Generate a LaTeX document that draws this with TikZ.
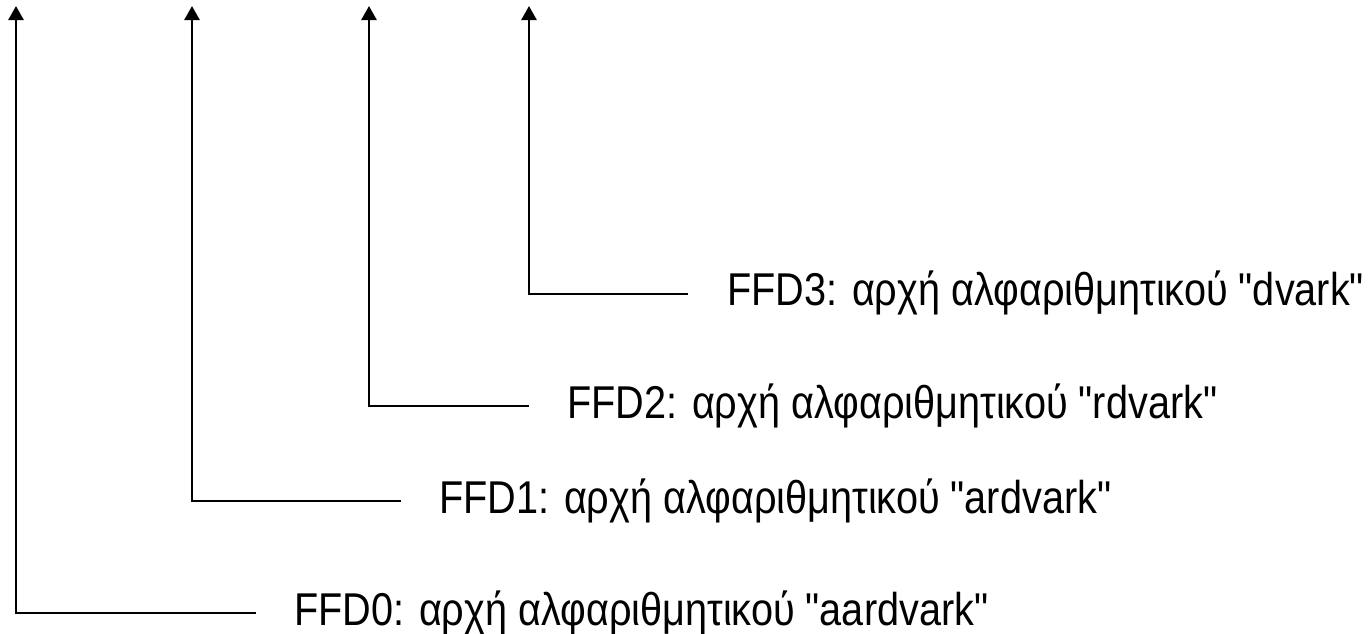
\documentclass[tikz,border=0pt]{standalone}
\usepackage{fontspec}
\setmainfont{Liberation Sans}[Ligatures=TeXOff]
\usetikzlibrary{arrows.meta}
\tikzset{
  lead/.style={line width=2.6pt, -{Triangle[width=15pt,length=14pt]}},
  lbl/.style={anchor=base west, inner sep=0pt, font=\fontsize{46}{50}\selectfont}
}
\newcommand{\squeeze}[1]{\scalebox{0.862}[1]{#1}}
\begin{document}
\begin{tikzpicture}[x=1pt,y=-1pt]
  \useasboundingbox (0,0) rectangle (1370,633);
  % labels
  \node[lbl] (t0) at (294,625) {\squeeze{FFD0: αρχή αλφαριθμητικού "aardvark"}};
  \node[lbl] (t1) at (439,513) {\squeeze{FFD1: αρχή αλφαριθμητικού "ardvark"}};
  \node[lbl] (t2) at (567,418) {\squeeze{FFD2: αρχή αλφαριθμητικού "rdvark"}};
  \node[lbl] (t3) at (727,305) {\squeeze{FFD3: αρχή αλφαριθμητικού "dvark"}};
  % line ends, corners and arrow tips
  \coordinate (e0) at (256,613); \coordinate (k0) at (16,613);  \coordinate (a0) at (16,6);
  \coordinate (e1) at (401,501); \coordinate (k1) at (192,501); \coordinate (a1) at (192,6);
  \coordinate (e2) at (529,406); \coordinate (k2) at (369,406); \coordinate (a2) at (369,6);
  \coordinate (e3) at (688,294); \coordinate (k3) at (529,294); \coordinate (a3) at (529,6);
  % pointers
  \draw[lead] (e0) -- (k0) -- (a0);
  \draw[lead] (e1) -- (k1) -- (a1);
  \draw[lead] (e2) -- (k2) -- (a2);
  \draw[lead] (e3) -- (k3) -- (a3);
\end{tikzpicture}
\end{document}
